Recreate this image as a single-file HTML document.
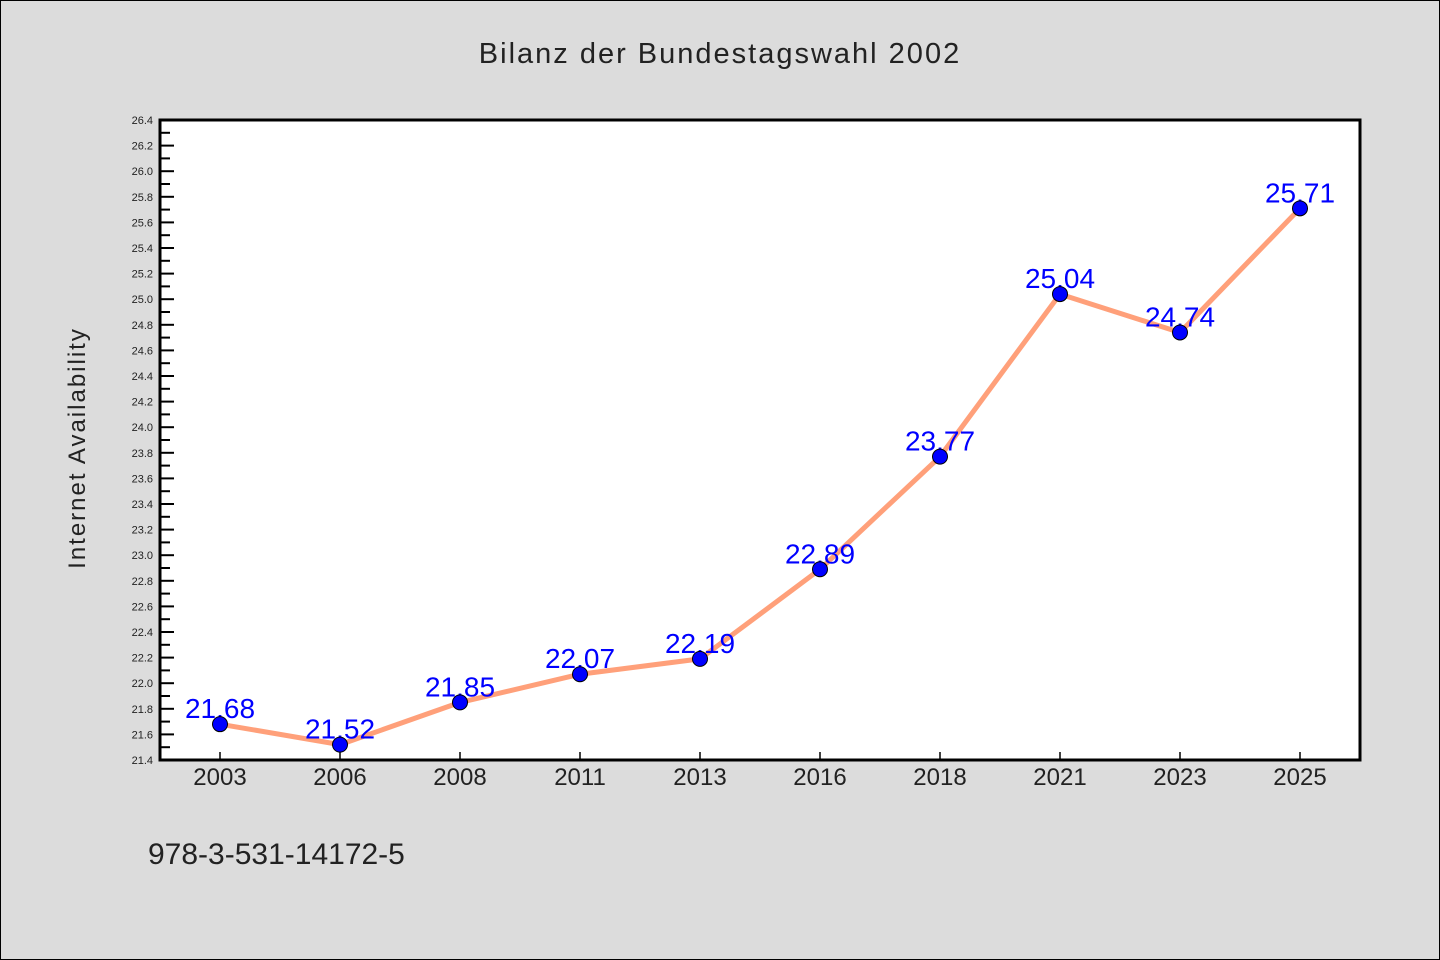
<!DOCTYPE html>
<html><head><meta charset="utf-8"><style>
html,body{margin:0;padding:0;background:#dcdcdc}
svg{display:block}
text{font-family:"WenQuanYi Zen Hei","Liberation Sans",sans-serif}
</style></head><body>
<svg id="chart" width="1440" height="960" xmlns="http://www.w3.org/2000/svg">
<rect x="0.5" y="0.5" width="1439" height="959" fill="#dcdcdc" stroke="#000" stroke-width="1"/>
<text x="720" y="63" text-anchor="middle" font-size="29" fill="#222" letter-spacing="2">Bilanz der Bundestagswahl 2002</text>
<rect x="160" y="120" width="1200" height="640" fill="#fff"/>
<g id="yaxis"></g>
<g id="xaxis"></g>
<g id="series"></g>
<rect x="160" y="120" width="1200" height="640" fill="none" stroke="#000" stroke-width="3"/>
<text transform="translate(85,448) rotate(-90)" text-anchor="middle" font-size="24" fill="#222" letter-spacing="2">Internet Availability</text>
<text x="148" y="864" font-size="30" fill="#222">978-3-531-14172-5</text>
</svg>
<script>
const categories=["2003","2006","2008","2011","2013","2016","2018","2021","2023","2025"];
const values=[21.68,21.52,21.85,22.07,22.19,22.89,23.77,25.04,24.74,25.71];
const yTicks=[21.4,21.6,21.8,22.0,22.2,22.4,22.6,22.8,23.0,23.2,23.4,23.6,23.8,24.0,24.2,24.4,24.6,24.8,25.0,25.2,25.4,25.6,25.8,26.0,26.2,26.4];
const yMin=21.4,yMax=26.4,L=160,R=1360,T=120,B=760;
const NS="http://www.w3.org/2000/svg";
const y=v=>B-(v-yMin)/(yMax-yMin)*(B-T);
const bw=(R-L)/categories.length;
const x=i=>L+bw*(i+0.5);
function mk(tag,attrs,parent){const e=document.createElementNS(NS,tag);for(const k in attrs)e.setAttribute(k,attrs[k]);parent.appendChild(e);return e;}
const ya=document.getElementById('yaxis'),xa=document.getElementById('xaxis'),sg=document.getElementById('series');
yTicks.forEach((t,i)=>{
  const l=mk('line',{x1:L,x2:L+14,y1:y(t),y2:y(t),stroke:'#000','stroke-width':2},ya);
  
  
  if(i<yTicks.length-1){const m=mk('line',{x1:L,x2:L+10,y1:y(t+0.1),y2:y(t+0.1),stroke:'#000','stroke-width':2},ya);
  
  }
  const tx=mk('text',{x:L-7,y:y(t)+4,'text-anchor':'end','font-size':11,fill:'#222'},ya);
  tx.textContent=t.toFixed(1);
  
  
});
categories.forEach((c,i)=>{
  const l=mk('line',{x1:x(i),x2:x(i),y1:B,y2:B-8,stroke:'#000','stroke-width':1.5},xa);
  
  
  const tx=mk('text',{x:x(i),y:B+25,'text-anchor':'middle','font-size':24,fill:'#222'},xa);
  tx.textContent=c;
  
  
});
const pl=mk('polyline',{points:values.map((v,i)=>x(i)+','+y(v)).join(' '),fill:'none',stroke:'#ffa07a','stroke-width':5,'stroke-linejoin':'round'},sg);


values.forEach((v,i)=>{
  const tx=mk('text',{x:x(i),y:y(v)-6,'text-anchor':'middle','font-size':28,fill:'#0000ff'},sg);
  tx.textContent=v.toFixed(2);
  
  
});
values.forEach((v,i)=>{
  const c=mk('circle',{cx:x(i),cy:y(v),r:7.5,fill:'#0000ff',stroke:'#000','stroke-width':1},sg);
  
  
});
</script>
</body></html>
